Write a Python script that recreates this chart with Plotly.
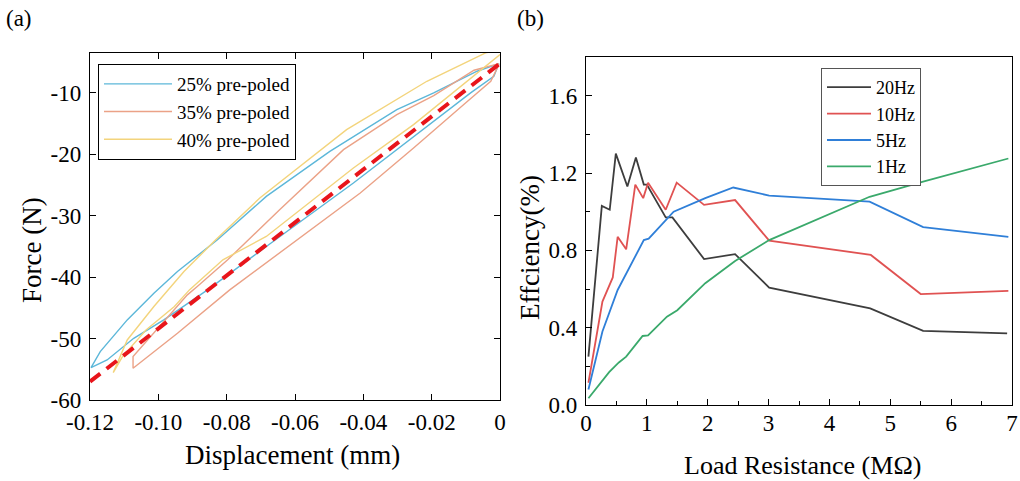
import plotly.graph_objects as go

# ---------------- (a) Force vs displacement loops ----------------
disp_25 = [-0.0003, -0.0018, -0.0086, -0.0302, -0.0429, -0.0684, -0.0856, -0.0984, -0.1072, -0.1150, -0.1197,
           -0.1170, -0.1091, -0.1013, -0.0944, -0.0827, -0.0684, -0.0498, -0.0302, -0.0194, -0.0067, -0.0003]
force_25 = [-5.22, -7.28, -10.0, -19.24, -24.67, -35.0, -42.07, -46.96, -49.95, -53.48, -54.73,
            -52.12, -46.96, -42.61, -39.08, -33.91, -26.85, -19.51, -12.72, -10.0, -6.47, -5.22]

disp_35 = [-0.0003, -0.0027, -0.0106, -0.0253, -0.0409, -0.0791, -0.0944, -0.1074,
           -0.1074, -0.0987, -0.0915, -0.0886, -0.0797, -0.0645, -0.0458, -0.0302, -0.0194, -0.0076, -0.0003]
force_35 = [-5.38, -8.10, -11.90, -18.97, -26.30, -42.07, -49.13, -54.84,
            -52.93, -47.50, -42.88, -41.52, -37.17, -29.02, -19.24, -13.53, -10.43, -6.30, -5.22]

disp_40 = [0.0, -0.0253, -0.0429, -0.0684, -0.0811, -0.0909, -0.0953, -0.1036, -0.1105, -0.1132,
           -0.1091, -0.1013, -0.0925, -0.0832, -0.0703, -0.0449, -0.0214, -0.0042, 0.0]
force_40 = [-3.75, -15.16, -22.23, -33.37, -37.17, -42.07, -44.78, -48.59, -52.93, -55.54,
            -50.22, -44.78, -39.08, -33.91, -27.12, -15.98, -8.10, -3.48, -2.93]

fit_disp = [-0.12, 0.0]
fit_force = [-57.0, -5.2]

loop_names = ["25% pre-poled", "35% pre-poled", "40% pre-poled"]
disp_ticks = [-0.12, -0.10, -0.08, -0.06, -0.04, -0.02, 0]
disp_ticktext = ["-0.12", "-0.10", "-0.08", "-0.06", "-0.04", "-0.02", "0"]
force_ticks = [-60, -50, -40, -30, -20, -10]
force_ticktext = ["-60", "-50", "-40", "-30", "-20", "-10"]

# ---------------- (b) Efficiency vs load resistance ----------------
r_20 = [0.04, 0.26, 0.39, 0.49, 0.68, 0.82, 0.95, 1.0, 1.31, 1.42, 1.94, 2.45, 3.01, 4.67, 5.54, 6.92]
eff_20 = [0.25, 1.03, 1.01, 1.30, 1.13, 1.28, 1.14, 1.14, 0.97, 0.97, 0.755, 0.78, 0.607, 0.50, 0.383, 0.37]

r_10 = [0.04, 0.27, 0.44, 0.52, 0.66, 0.81, 0.94, 1.02, 1.31, 1.49, 1.94, 2.45, 3.01, 4.68, 5.50, 6.94]
eff_10 = [0.115, 0.535, 0.66, 0.87, 0.805, 1.14, 1.07, 1.15, 1.01, 1.15, 1.035, 1.06, 0.85, 0.776, 0.574, 0.59]

r_5 = [0.04, 0.27, 0.52, 0.95, 1.03, 1.44, 1.96, 2.42, 3.01, 4.66, 5.54, 6.94]
eff_5 = [0.08, 0.38, 0.595, 0.853, 0.86, 1.0, 1.07, 1.125, 1.083, 1.052, 0.92, 0.87]

r_1 = [0.04, 0.38, 0.54, 0.66, 0.93, 1.02, 1.33, 1.50, 1.96, 2.45, 3.01, 4.66, 5.54, 6.94]
eff_1 = [0.035, 0.17, 0.22, 0.25, 0.357, 0.36, 0.457, 0.49, 0.63, 0.745, 0.853, 1.077, 1.155, 1.275]

freq_names = ["20Hz", "10Hz", "5Hz", "1Hz"]
res_ticks = [0, 1, 2, 3, 4, 5, 6, 7]
eff_ticks = [0.0, 0.4, 0.8, 1.2, 1.6]

SERIF = "Tinos"
fig = go.Figure()

loop_colors = ["#5cb7d9", "#eba287", "#f3d47c"]
for xs, ys, nm, col in zip([disp_25, disp_35, disp_40], [force_25, force_35, force_40], loop_names, loop_colors):
    fig.add_trace(go.Scatter(x=xs, y=ys, mode="lines", name=nm, line=dict(color=col, width=1.4),
                             xaxis="x", yaxis="y", legend="legend"))
fig.add_trace(go.Scatter(x=fit_disp, y=fit_force, mode="lines", showlegend=False,
                         line=dict(color="#e8151b", width=4, dash="13px,8px"), xaxis="x", yaxis="y"))

freq_colors = ["#3d3d3d", "#e05252", "#2f7fd8", "#3aa96b"]
for xs, ys, nm, col in zip([r_20, r_10, r_5, r_1], [eff_20, eff_10, eff_5, eff_1], freq_names, freq_colors):
    fig.add_trace(go.Scatter(x=xs, y=ys, mode="lines", name=nm, line=dict(color=col, width=1.8),
                             xaxis="x2", yaxis="y2", legend="legend2"))

W, H = 1020, 481
def px_x(p):
    return p / W
def px_y(p):
    return (H - p) / H

axis_common = dict(showgrid=False, zeroline=False, showline=True, linecolor="black", linewidth=1.3,
                   ticks="inside", ticklen=6, tickwidth=1.2, tickcolor="black", automargin=False,
                   tickfont=dict(family=SERIF, size=23, color="black"))

fig.update_layout(
    template="none",
    width=W, height=H, margin=dict(l=0, r=0, t=0, b=0, pad=0), autosize=False,
    paper_bgcolor="white", plot_bgcolor="white",
    font=dict(family=SERIF, color="black"),
    xaxis=dict(domain=[px_x(90), px_x(500)], range=[-0.12, 0], tickvals=disp_ticks, ticktext=disp_ticktext,
               mirror="ticks", anchor="y", ticklabelstandoff=1, **axis_common),
    yaxis=dict(domain=[px_y(400), px_y(53)], range=[-60, -3.5], tickvals=force_ticks, ticktext=force_ticktext,
               mirror="ticks", anchor="x", ticklabelstandoff=3, **axis_common),
    xaxis2=dict(domain=[px_x(586), px_x(1012)], range=[0, 7], tickvals=res_ticks,
                mirror=True, anchor="y2", ticklabelstandoff=-3,
                minor=dict(ticks="inside", ticklen=4, tickcolor="black", dtick=0.5, tick0=0),
                **axis_common),
    yaxis2=dict(domain=[px_y(405), px_y(57)], range=[0, 1.8], tickvals=eff_ticks, tickformat=".1f",
                mirror=True, anchor="x2", ticklabelstandoff=3,
                minor=dict(ticks="inside", ticklen=4, tickcolor="black", dtick=0.2, tick0=0),
                **axis_common),
    legend=dict(x=px_x(98), y=px_y(64), xanchor="left", yanchor="top", bgcolor="white",
                bordercolor="black", borderwidth=1, font=dict(family=SERIF, size=19, color="black"),
                tracegroupgap=0, itemwidth=68),
    legend2=dict(x=px_x(821), y=px_y(68), xanchor="left", yanchor="top", bgcolor="white",
                 bordercolor="#555555", borderwidth=1, font=dict(family=SERIF, size=18, color="black"),
                 tracegroupgap=0, itemwidth=44),
)

ann = [
    dict(text="(a)", x=px_x(19), y=px_y(18), font=dict(size=23)),
    dict(text="(b)", x=px_x(530), y=px_y(18), font=dict(size=23)),
    dict(text="Displacement (mm)", x=px_x(292), y=px_y(455), font=dict(size=27)),
    dict(text="Force (N)", x=px_x(32), y=px_y(250), font=dict(size=27), textangle=-90),
    dict(text="Load Resistance (M\u03a9)", x=px_x(802), y=px_y(465), font=dict(size=26)),
    dict(text="Effciency(%)", x=px_x(530), y=px_y(248), font=dict(size=27), textangle=-90),
]
for a in ann:
    fig.add_annotation(xref="paper", yref="paper", showarrow=False, xanchor="center", yanchor="middle",
                       **{k: v for k, v in a.items() if k != "font"},
                       font=dict(family=SERIF, color="black", **a["font"]))

# remove the page's default body margin so the 1020x481 figure fills the window exactly
fig.write_html("out.html", config={"displayModeBar": False},
               post_script="document.body.style.margin='0px';document.body.style.padding='0px';"
                           "document.body.style.overflow='hidden';")
